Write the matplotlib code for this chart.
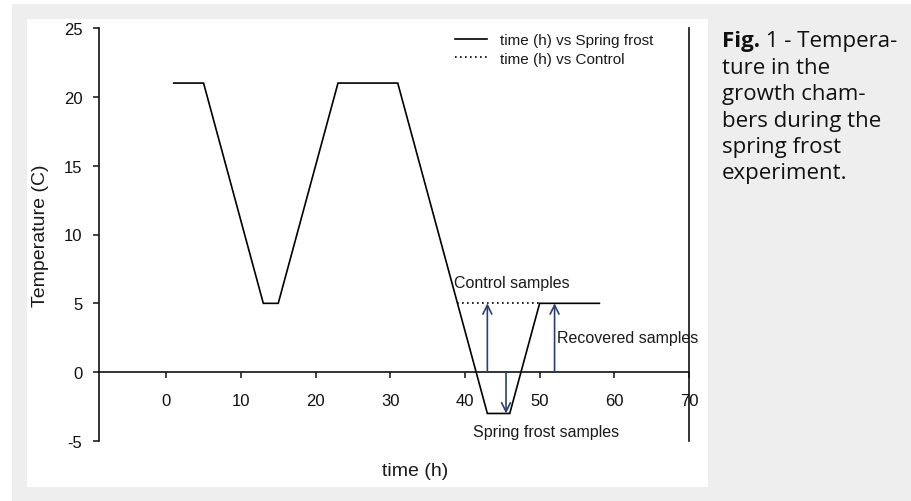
import matplotlib
matplotlib.use('Agg')
import matplotlib.pyplot as plt
from matplotlib.patches import Rectangle

# ---- data ----
time_h = [1, 5, 13, 15, 23, 31, 43, 46, 50, 58]
spring_frost = [21, 21, 5, 5, 21, 21, -3, -3, 5, 5]
control_time = [39, 50]
control_temp = [5, 5]
arrow_x = [43, 45.5, 52]
arrow_start = [0, 0, 0]
arrow_end = [5, -3, 5]
x_ticks = [0, 10, 20, 30, 40, 50, 60, 70]
y_ticks = [-5, 0, 5, 10, 15, 20, 25]
note_labels = ["Control samples", "Recovered samples", "Spring frost samples"]
note_x = [38.6, 52.3, 41.1]
note_y = [6.5, 2.5, -4.3]
legend_labels = ["time (h) vs Spring frost", "time (h) vs Control"]
caption_lines = ["ture in the", "growth cham-", "bers during the",
                 "spring frost", "experiment."]

W, H = 911, 502
plt.rcParams['font.family'] = ['Liberation Sans', 'DejaVu Sans']
plt.rcParams['axes.unicode_minus'] = False
fig = plt.figure(figsize=(W / 100, H / 100), dpi=100)

def fx(x):
    return x / W

def fy(y):
    return 1 - y / H

gray = '#eeeeee'
fig.patches.append(Rectangle((fx(12), 0), 1 - fx(12), fy(5), transform=fig.transFigure,
                             facecolor=gray, edgecolor='none', zorder=-10))
fig.patches.append(Rectangle((fx(27), fy(488)), fx(708) - fx(27), fy(20) - fy(488),
                             transform=fig.transFigure, facecolor='white',
                             edgecolor='none', zorder=-9))

ax = fig.add_axes([fx(99), fy(442), fx(689) - fx(99), fy(29) - fy(442)])
ax.set_facecolor('none')
ax.set_xlim(-9, 70)
ax.set_ylim(-5, 25)

ax.plot(time_h, spring_frost, color='black', lw=1.2, solid_joinstyle='miter',
        label=legend_labels[0])
ax.plot(control_time, control_temp, color='black', lw=1.2, linestyle=(0, (1, 2)),
        label=legend_labels[1])

arrow_color = '#2b3f6e'
for xa, y0, y1 in zip(arrow_x, arrow_start, arrow_end):
    ax.annotate('', xy=(xa, y1), xytext=(xa, y0),
                arrowprops=dict(arrowstyle='->', color=arrow_color, lw=1.2,
                                mutation_scale=16, shrinkA=0, shrinkB=0))

for lab, xn, yn in zip(note_labels, note_x, note_y):
    ax.text(xn, yn, lab, fontsize=11.5, color='#1a1a1a', ha='left', va='center')

ax.spines['top'].set_visible(False)
ax.spines['bottom'].set_position(('data', 0))
for s in ['left', 'bottom', 'right']:
    ax.spines[s].set_linewidth(1.2)
    ax.spines[s].set_color('#111111')
ax.set_xticks(x_ticks)
ax.set_yticks(y_ticks)
ax.tick_params(axis='both', direction='out', length=4, width=1.1, labelsize=12,
               colors='#111111')
ax.tick_params(axis='x', pad=11)
ax.tick_params(axis='y', pad=8)

leg = ax.legend(loc='upper left', bbox_to_anchor=(fx(455), fy(34)),
                bbox_transform=fig.transFigure, frameon=False, fontsize=11,
                handlelength=2.1, handletextpad=0.85, labelspacing=0.3,
                borderpad=0, borderaxespad=0)
for t in leg.get_texts():
    t.set_color('#1a1a1a')

fig.text(fx(99) - 0.064, (fy(442) + fy(29)) / 2, 'Temperature (C)', rotation=90,
         fontsize=14, ha='center', va='center', color='#1a1a1a')
fig.text(fx(415), fy(472), 'time (h)', fontsize=14, ha='center', va='center',
         color='#1a1a1a')

# caption
cap_font = ['Open Sans', 'DejaVu Sans']
cap_size = 16
line_h = 26.5
base0 = 47
x0 = fx(722)
t1 = fig.text(x0, fy(base0), 'Fig.', fontsize=cap_size, fontweight='bold',
              family=cap_font, ha='left', va='baseline', color='#111111')
fig.canvas.draw()
bb = t1.get_window_extent()
fig.text(bb.x1 / W, fy(base0), ' 1 - Tempera-', fontsize=cap_size, family=cap_font,
         ha='left', va='baseline', color='#111111')
for i, line in enumerate(caption_lines):
    fig.text(x0, fy(base0 + line_h * (i + 1)), line, fontsize=cap_size, family=cap_font,
             ha='left', va='baseline', color='#111111')

fig.savefig('out.png', dpi=100)
